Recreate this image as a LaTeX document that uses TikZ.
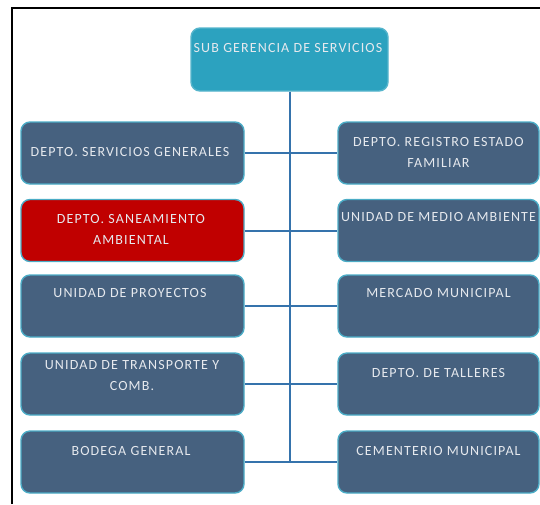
\documentclass[tikz,border=0pt]{standalone}
\usepackage{fontspec}
\setmainfont{Carlito}[LetterSpace=8]
\definecolor{slate}{HTML}{46617F}
\definecolor{edge}{HTML}{4BACC6}
\definecolor{redbox}{HTML}{C00000}
\definecolor{teal}{HTML}{2CA2BF}
\definecolor{link}{HTML}{3573AC}
\definecolor{label}{HTML}{E6E9EE}
\begin{document}
\begin{tikzpicture}[x=1pt, y=-1pt,
  unit/.style={rectangle, rounded corners=9pt, fill=slate, draw=edge, line width=1.4pt,
    minimum height=62pt, inner sep=0pt},
  leftunit/.style={unit, minimum width=223pt},
  rightunit/.style={unit, minimum width=201pt},
  caption/.style={text=label, align=center, inner sep=0pt,
    font=\fontsize{14}{21}\selectfont},
  line/.style={draw=link, line width=2pt}]
\useasboundingbox (0,0) rectangle (540,504);
\draw[line width=2pt] (12,504) -- (12,7.5) -- (540,7.5);
\node[unit, fill=teal, draw=teal!80!white, minimum width=197pt, minimum height=63pt] (sub) at (289.5,59.5) {};
\node[leftunit] (dsg) at (132.5,153) {};
\node[rightunit] (dre) at (438.5,153) {};
\node[leftunit, fill=redbox] (dsa) at (132.5,230.5) {};
\node[rightunit] (uma) at (438.5,230.5) {};
\node[leftunit] (upr) at (132.5,306) {};
\node[rightunit] (mmu) at (438.5,306) {};
\node[leftunit] (utc) at (132.5,384) {};
\node[rightunit] (dta) at (438.5,384) {};
\node[leftunit] (bge) at (132.5,462) {};
\node[rightunit] (cmu) at (438.5,462) {};
\node[caption] (subt) at (288,48) {SUB GERENCIA DE SERVICIOS};
\node[caption] (dsgt) at (130,152) {DEPTO. SERVICIOS GENERALES};
\node[caption] (dret) at (438.5,152.5) {DEPTO. REGISTRO ESTADO\\FAMILIAR};
\node[caption] (dsat) at (131,229.5) {DEPTO. SANEAMIENTO\\AMBIENTAL};
\node[caption] (umat) at (438.5,217) {UNIDAD DE MEDIO AMBIENTE};
\node[caption] (uprt) at (130,293) {UNIDAD DE PROYECTOS};
\node[caption] (mmut) at (438.5,293) {MERCADO MUNICIPAL};
\node[caption] (utct) at (132,375.5) {UNIDAD DE TRANSPORTE Y\\COMB.};
\node[caption] (dtat) at (438.5,373) {DEPTO. DE TALLERES};
\node[caption] (bget) at (131,451) {BODEGA GENERAL};
\node[caption] (cmut) at (438.5,451) {CEMENTERIO MUNICIPAL};
\coordinate (trunk) at (sub.south |- bge.east);
\draw[line] (sub) -- (trunk);
\draw[line] (dsg) -- (dre);
\draw[line] (dsa) -- (uma);
\draw[line] (upr) -- (mmu);
\draw[line] (utc) -- (dta);
\draw[line] (bge) -- (cmu);
\end{tikzpicture}
\end{document}
